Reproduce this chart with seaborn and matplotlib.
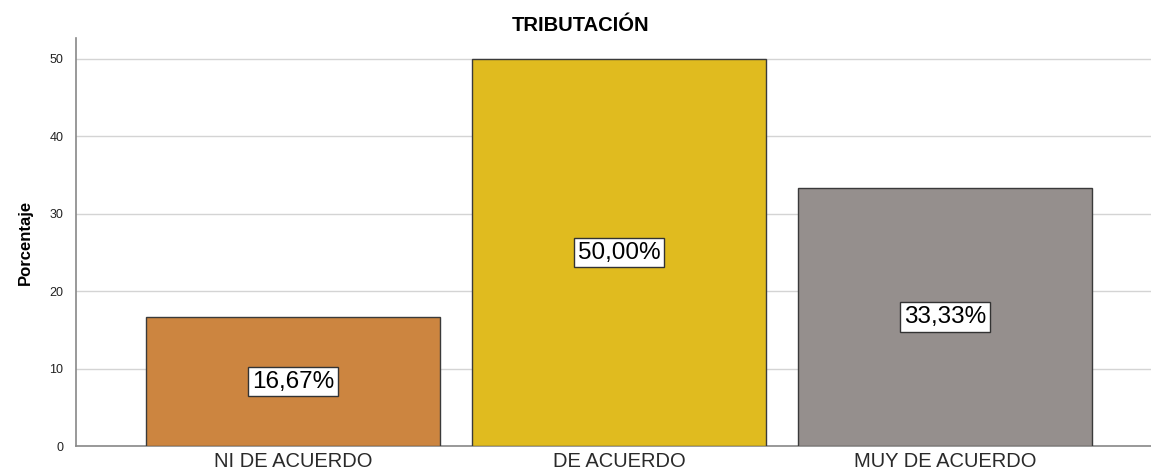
import matplotlib
matplotlib.use("Agg")
import matplotlib.pyplot as plt
import seaborn as sns
import pandas as pd

categories = ["NI DE ACUERDO", "DE ACUERDO", "MUY DE ACUERDO"]
values = [16.67, 50.00, 33.33]
labels = ["16,67%", "50,00%", "33,33%"]
colors = ["#CC8540", "#E0BB1F", "#958F8D"]
yticks = [0, 10, 20, 30, 40, 50]

sns.set_theme(style="white")
plt.rcParams['font.family'] = ['Liberation Sans', 'DejaVu Sans']

df = pd.DataFrame({"cat": categories, "val": values})

fig = plt.figure(figsize=(11.51, 4.70), dpi=100)
ax = fig.add_axes([0.066, 0.051, 0.934, 0.868])

sns.barplot(data=df, x="cat", y="val", hue="cat", palette=colors, legend=False,
            saturation=1, width=0.90, edgecolor="#3a3a3a", linewidth=1.0, ax=ax, zorder=3)

ax.set_xlim(-0.666, 2.632)
ax.set_ylim(0, 52.7)
ax.set_yticks(yticks)
ax.set_yticklabels([str(t) for t in yticks], fontsize=9, color="#222222")
ax.tick_params(axis="x", labelsize=14.5, colors="#2a2a2a", length=0, pad=4)
ax.tick_params(axis="y", length=0, pad=9)
ax.yaxis.grid(True, color="#d4d4d4", linewidth=1.0, zorder=0)
ax.set_axisbelow(True)
for s in ["top", "right"]:
    ax.spines[s].set_visible(False)
for s in ["left", "bottom"]:
    ax.spines[s].set_color("#888888")
    ax.spines[s].set_linewidth(1.2)

ax.set_xlabel("")
ax.set_ylabel("Porcentaje", fontsize=12, fontweight="bold", color="black",
              family=["Liberation Sans Narrow", "Liberation Sans"], labelpad=12)

for i, (v, lab) in enumerate(zip(values, labels)):
    ax.text(i, v / 2, lab, ha="center", va="center", fontsize=17.5, color="black", zorder=5,
            bbox=dict(boxstyle="square,pad=0.15", facecolor="white", edgecolor="#333333", linewidth=1.0))

fig.text(0.504, 0.945, "TRIBUTACIÓN", ha="center", va="center", fontsize=14.5,
         fontweight="bold", color="black")

fig.savefig("out.png", dpi=100)
